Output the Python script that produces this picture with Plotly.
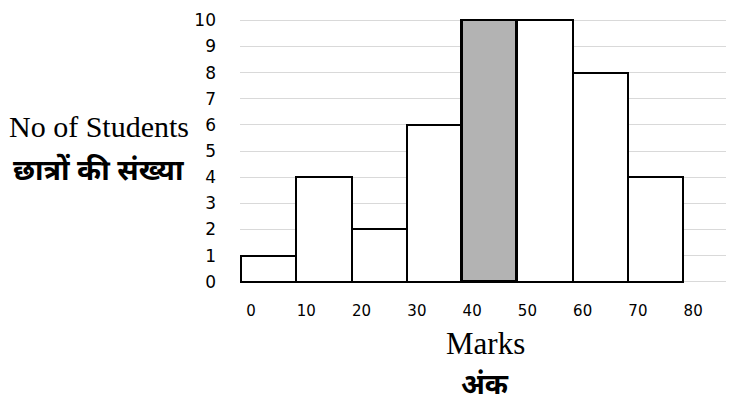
import plotly.graph_objects as go

bin_starts = [0, 10, 20, 30, 40, 50, 60, 70]
students = [1, 4, 2, 6, 10, 10, 8, 4]
bar_colors = ["white", "white", "white", "white", "#b3b3b3", "white", "white", "white"]
line_widths = [2, 2, 2, 2, 3, 2, 2, 2]
x_ticks = [0, 10, 20, 30, 40, 50, 60, 70, 80]
y_ticks = [0, 1, 2, 3, 4, 5, 6, 7, 8, 9, 10]

OFF = 8  # page body margin
W, H = 734 - OFF, 408 - OFF
L, R = 240 - OFF, 0
T = 19.2 - OFF
B = 125.2
pw, ph = W - L - R, H - T - B

def px(x):
    return (x - OFF - L) / pw

def py(y):
    return (H - B - (y - OFF)) / ph

fig = go.Figure()
fig.add_trace(go.Bar(
    x=bin_starts, y=students, width=10, offset=0,
    marker=dict(color=bar_colors, line=dict(color="black", width=line_widths)),
    showlegend=False, hoverinfo="skip",
))

fig.update_layout(
    width=W, height=H,
    margin=dict(l=L, r=R, t=T, b=B, pad=0),
    paper_bgcolor="white", plot_bgcolor="white",
    bargap=0,
    xaxis=dict(
        range=[-0.2, 89.2], tickvals=x_ticks, ticktext=[str(v) for v in x_ticks],
        showgrid=False, zeroline=False, showline=False, ticks="",
        tickfont=dict(family="DejaVu Sans", size=15, color="black"),
        ticklabelstandoff=17, ticklabelshift=10,
    ),
    yaxis=dict(
        range=[-0.05, 10.05], tickvals=y_ticks,
        showgrid=True, gridcolor="#d9d9d9", gridwidth=1,
        zeroline=False, showline=False, ticks="",
        tickfont=dict(family="DejaVu Sans", size=17, color="black"),
        ticklabelstandoff=23,
    ),
    annotations=[
        dict(text="No of Students", x=px(99), y=py(127), xref="paper", yref="paper",
             showarrow=False, xanchor="center", yanchor="middle",
             font=dict(family="Liberation Serif", size=30, color="black")),
        dict(text="<b>छात्रों की संख्या</b>", x=px(98), y=py(168), xref="paper", yref="paper",
             showarrow=False, xanchor="center", yanchor="middle",
             font=dict(family="Noto Sans", size=29, color="black")),
        dict(text="Marks", x=px(485), y=py(343), xref="paper", yref="paper",
             showarrow=False, xanchor="center", yanchor="middle",
             font=dict(family="Liberation Serif", size=31, color="black")),
        dict(text="<b>अंक</b>", x=px(485), y=py(383), xref="paper", yref="paper",
             showarrow=False, xanchor="center", yanchor="middle",
             font=dict(family="Noto Sans", size=28, color="black")),
    ],
)

fig.write_html("out.html")
